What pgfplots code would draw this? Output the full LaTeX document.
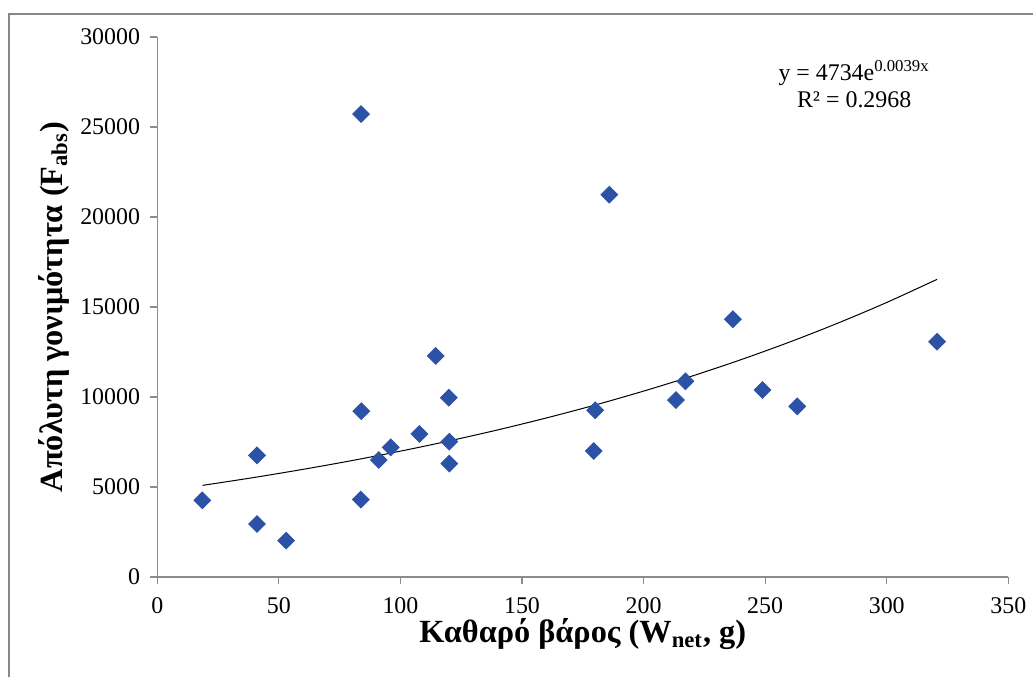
\documentclass[border=0pt]{standalone}
\usepackage{fontspec}
\setmainfont{Liberation Serif}
\usepackage{pgfplots}
\pgfplotsset{compat=1.18}
\definecolor{ptblue}{HTML}{2B52A6}
\definecolor{axgray}{HTML}{8C8C8C}
\definecolor{framegray}{HTML}{878787}
\newcommand{\px}{0.4269pt}

\begin{document}
\begin{tikzpicture}
\useasboundingbox (0,0) rectangle (1033*\px,677*\px);
\fill[white] (0,0) rectangle (1033*\px,677*\px);
% outer chart frame (cut off at right and bottom)
\draw[framegray, line width=2*\px] (9*\px,-5*\px) -- (9*\px,663*\px) -- (1040*\px,663*\px);

\begin{axis}[
    at={(157.3*\px,100*\px)}, anchor=south west,
    scale only axis,
    width=851*\px, height=540*\px,
    xmin=0, xmax=350, ymin=0, ymax=30000,
    axis x line*=bottom, axis y line*=left,
    axis line style={axgray, line width=1.2*\px, -},
    xtick={0,50,...,350}, ytick={0,5000,...,30000},
    tick style={axgray, line width=1.2*\px},
    tick align=outside, major tick length=7*\px,
    scaled ticks=false,
    /pgf/number format/assume math mode=true,
    /pgf/number format/.cd, 1000 sep={}, /pgfplots/.cd,
    tick label style={font=\fontsize{10.2}{12}\selectfont},
    xticklabel style={yshift=-5*\px},
    yticklabel style={xshift=-2*\px},
    xlabel={\textbf{Καθαρό βάρος (W\textsubscript{net}, g)}},
    ylabel={\textbf{Απόλυτη γονιμότητα (F\textsubscript{abs})}},
    label style={font=\fontsize{13.8}{16}\selectfont},
    xlabel style={at={(axis description cs:0.5,-0.106)}, anchor=center},
    ylabel style={at={(axis description cs:-0.122,0.5)}, anchor=center, rotate=0},
    clip=false,
]
\addplot[only marks, mark=square*, mark size=2.5pt,
         mark options={rotate=45, fill=ptblue, draw=ptblue}] coordinates {
    (18.5,4260) (41,6760) (41,2945) (53,2020) (83.8,25720) (83.9,9210)
    (83.7,4300) (91.1,6500) (96,7200) (107.8,7950) (114.5,12280)
    (119.9,9960) (120.1,7520) (120.1,6300) (180.1,9260) (179.5,7000)
    (185.9,21240) (213.3,9830) (217.2,10870) (236.7,14320) (248.9,10390)
    (263.2,9480) (320.7,13070)
};
% exponential trendline
\addplot[black, line width=1*\px, smooth] coordinates {
    (18.6,5090) (40,5533) (60,5982) (80,6467) (100,6992) (120,7559)
    (140,8172) (160,8835) (180,9552) (200,10327) (220,11165) (240,12071)
    (260,13050) (280,14109) (300,15253) (320.7,16536)
};
\node[anchor=base, font=\fontsize{10.2}{12}\selectfont] at (axis cs:286.6,27611)
    {y = 4734e\textsuperscript{0.0039x}};
\node[anchor=base, font=\fontsize{10.2}{12}\selectfont] at (axis cs:286.6,26056)
    {R² = 0.2968};
\end{axis}
\end{tikzpicture}
\end{document}
